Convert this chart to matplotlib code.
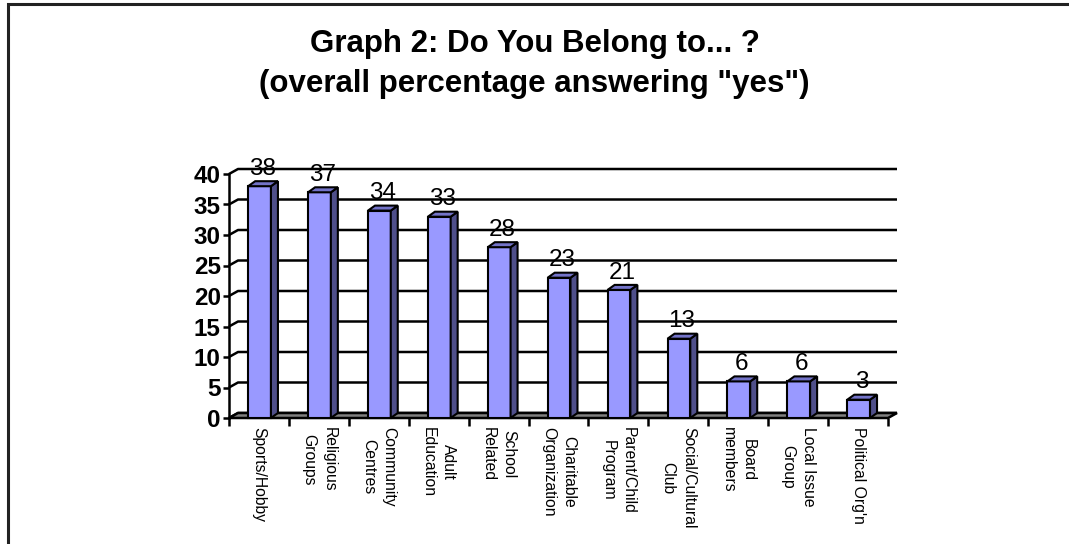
import numpy as np
import matplotlib.pyplot as plt
from matplotlib.patches import Polygon, Rectangle

# survey results: percentage answering "yes"
categories = ['Sports/Hobby', 'Religious\nGroups', 'Community\nCentres', 'Adult\nEducation',
              'School\nRelated', 'Charitable\nOrganization', 'Parent/Child\nProgram',
              'Social/Cultural\nClub', 'Board\nmembers', 'Local Issue\nGroup', 'Political Org\'n']
values = [38, 37, 34, 33, 28, 23, 21, 13, 6, 6, 3]
yticks = [0, 5, 10, 15, 20, 25, 30, 35, 40]

W, H = 1069, 544
fig = plt.figure(figsize=(W / 100, H / 100), dpi=100)
plt.rcParams['font.family'] = ['Liberation Sans', 'DejaVu Sans']

# front plane of the chart in pixels
x0, x1 = 229, 888
y0, y1 = 418, 174
ax = fig.add_axes([x0 / W, 1 - y0 / H, (x1 - x0) / W, (y0 - y1) / H])
n = len(values)
ax.set_xlim(-0.5, n - 0.5)
ax.set_ylim(0, 40)

# depth offset of the back wall, in data units
pxx = (x1 - x0) / n
pxy = (y0 - y1) / 40.0
dx = 9 / pxx
dy = 5 / pxy

lw = 1.8
for t in yticks:
    ax.plot([-0.5, -0.5 + dx, n - 0.5 + dx], [t, t + dy, t + dy], color='black', lw=lw,
            clip_on=False, zorder=1, solid_capstyle='butt')

# floor
floor = Polygon([(-0.5, 0), (n - 0.5, 0), (n - 0.5 + dx, dy), (-0.5 + dx, dy)],
                closed=True, facecolor='#808080', edgecolor='black', lw=lw, clip_on=False, zorder=2)
ax.add_patch(floor)

# bars with side and top faces
bw = 0.38
bdx = 7 / pxx
bdy = dy
for i, v in enumerate(values):
    l = i - bw / 2 + 0.01
    r = i + bw / 2 + 0.01
    front = Polygon([(l, 0), (r, 0), (r, v), (l, v)], closed=True,
                    facecolor='#9999FF', edgecolor='black', lw=1.5, clip_on=False, zorder=3)
    side = Polygon([(r, 0), (r + bdx, bdy), (r + bdx, v + bdy), (r, v)], closed=True,
                   facecolor='#4F4F8A', edgecolor='black', lw=1.5, clip_on=False, zorder=3)
    top = Polygon([(l, v), (r, v), (r + bdx, v + bdy), (l + bdx, v + bdy)], closed=True,
                  facecolor='#7373C8', edgecolor='black', lw=1.5, clip_on=False, zorder=3)
    ax.add_patch(front)
    ax.add_patch(side)
    ax.add_patch(top)
    ax.annotate(str(v), (i + bdx / 2, v + bdy), xytext=(0, 4.5), textcoords='offset points',
                ha='center', va='baseline', fontsize=17.5, zorder=4, annotation_clip=False)

for s in ['top', 'right', 'bottom']:
    ax.spines[s].set_visible(False)
ax.spines['left'].set_linewidth(lw)
ax.spines['left'].set_zorder(5)
ax.set_facecolor('none')

ax.set_yticks(yticks)
ax.set_yticklabels([str(t) for t in yticks], fontsize=17.5, fontweight='bold')
ax.tick_params(axis='y', length=4, width=lw, pad=2)

ax.set_xticks(np.arange(n))
ax.set_xticklabels(categories, rotation=-90, fontsize=11.3, ha='center', va='top',
                   multialignment='center', linespacing=1.45)
ax.set_xticks(np.arange(-0.5, n, 1.0), minor=True)
ax.tick_params(axis='x', which='major', length=0, pad=6.5)
ax.tick_params(axis='x', which='minor', length=6, width=lw, direction='out')
for lab in ax.get_xticklabels():
    lab.set_x(lab.get_position()[0] - 0.05)

fig.text(0.5, 1 - 52 / H, 'Graph 2: Do You Belong to... ?', ha='center', va='baseline',
         fontsize=22.5, fontweight='bold')
fig.text(0.5, 1 - 92 / H, '(overall percentage answering "yes")', ha='center', va='baseline',
         fontsize=22.5, fontweight='bold')

# outer border of the chart area
fig.add_artist(Rectangle((8 / W, -0.05), 1.2, 1 - 4 / H + 0.05, transform=fig.transFigure,
                         facecolor='none', edgecolor='#222222', lw=2.2))

fig.savefig('out.png', dpi=100)
